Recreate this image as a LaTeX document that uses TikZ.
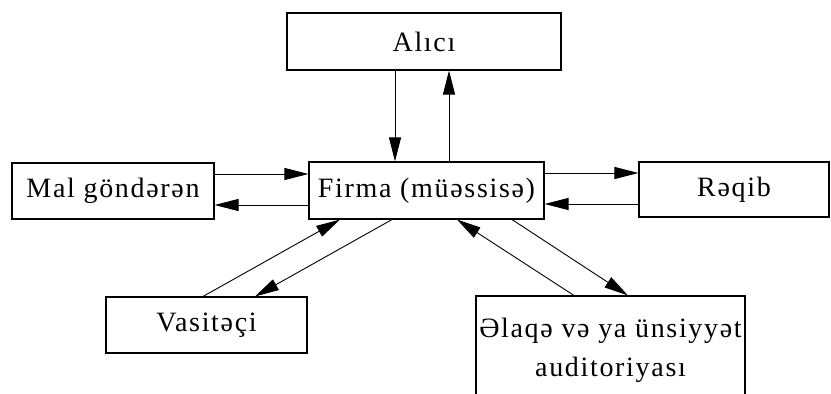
\documentclass[tikz,border=0pt]{standalone}
\usepackage{fontspec}
\setmainfont{Liberation Serif}[LetterSpace=6]
\usetikzlibrary{arrows.meta}
\tikzset{
  box/.style={draw=black, line width=1.1pt, rectangle, inner sep=0pt,
              font=\fontsize{28}{39}\selectfont, align=center},
  arr/.style={line width=0.9pt, -{Triangle[length=24pt,width=12pt]}}
}
\begin{document}
\begin{tikzpicture}[x=1pt, y=-1pt]
  \useasboundingbox (0,0) rectangle (831,394);
  \clip (0,0) rectangle (831,394);

  % boxes
  \node[box, minimum width=274pt, minimum height=57pt] (alici) at (424,41.5) {Alıcı};
  \node[box, minimum width=235pt, minimum height=57pt] (firma) at (426.5,190.5) {Firma (müəssisə)};
  \node[box, minimum width=202pt, minimum height=56pt] (mal) at (113,191) {Mal göndərən};
  \node[box, minimum width=190pt, minimum height=55pt] (reqib) at (734,189.5) {Rəqib};
  \node[box, minimum width=201pt, minimum height=56pt] (vas) at (206.5,325) {Vasitəçi};
  \node[box, minimum width=269pt, minimum height=108pt] (elaqe) at (610.5,350) {Əlaqə və ya ünsiyyət\\auditoriyası};

  % Alıcı <-> Firma
  \draw[arr] ([xshift=-29pt]alici.south) -- ([xshift=-31.5pt]firma.north);
  \draw[arr] ([xshift=22.5pt]firma.north) -- ([xshift=25pt]alici.south);

  % Mal göndərən <-> Firma
  \draw[arr] ([yshift=17pt]mal.east) -- ([yshift=16.5pt]firma.west);
  \draw[arr] ([yshift=-14.5pt]firma.west) -- ([yshift=-14pt]mal.east);

  % Firma <-> Rəqib
  \draw[arr] ([yshift=17.5pt]firma.east) -- ([yshift=16.5pt]reqib.west);
  \draw[arr] ([yshift=-14.5pt]reqib.west) -- ([yshift=-13.5pt]firma.east);

  % Vasitəçi <-> Firma
  \draw[arr] ([xshift=-3.5pt]vas.north) -- ([xshift=-86.5pt]firma.south);
  \draw[arr] ([xshift=-34.5pt]firma.south) -- ([xshift=48.5pt]vas.north);

  % Əlaqə auditoriyası <-> Firma
  \draw[arr] ([xshift=-36.5pt]elaqe.north) -- ([xshift=30.5pt]firma.south);
  \draw[arr] ([xshift=85.5pt]firma.south) -- ([xshift=17.5pt]elaqe.north);
\end{tikzpicture}
\end{document}
